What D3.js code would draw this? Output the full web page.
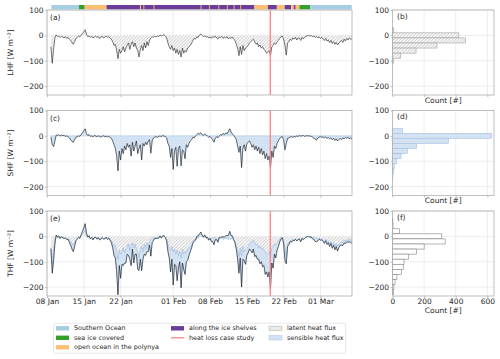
<!DOCTYPE html>
<html>
<head>
<meta charset="utf-8">
<script src="https://cdn.jsdelivr.net/npm/d3@7"></script>
<style>
  body { margin: 0; background: #fff; }
  text { font-family: "DejaVu Sans", sans-serif; fill: #262626; }
</style>
</head>
<body>
<div id="chart"></div>
<script>
// ---- data (6-hourly) ----
const startTime = "2017-01-08T18:00";
const stepHours = 6;

// latent heat flux [W m-2]
const lhf = [
  -45, -110, -55, -10,   2, -5, -3, -8,   -4, -6, -10, -5,   -12, -8, -15, -20,
  -28, -35, -25, -12,   -8, -3, -6, 2,   8, 14, 22, 4,   -5, -2, -8, -4,
  -10, -6, -3, -8,   -5, -12, -6, -4,   -10, -7, -3, -8,   -5, -10, -15, -25,
  -40, -35, -60, -92,   -55, -70, -60, -45,   -65, -50, -40, -30,   -55, -35, -25, -45,
  -30, -50, -60, -85,   -55, -40, -60, -30,   -50, -25, -40, -20,   -10, -5, -8, -3,
  -6, -2, -5, 2,   -3, 0, 3, -2,   -10, -30, -45, -55,   -40, -60, -50, -70,
  -55, -75, -60, -85,   -50, -70, -60, -65,   -50, -45, -40, -30,   -20, -12, -15, -5,
  -8, 2, 5, 0,   -5, -2, -8, -4,   -10, -6, -12, -5,   -8, -3, -10, -15,
  -6, -9, -4, -12,   -7, -10, -5, -14,   -8, -12, -6, -15,   -20, -35, -50, -80,
  -45, -75, -40, -60,   -50, -45, -40, -30,   -25, -20, -15, -25,   -35, -30, -45, -38,
  -50, -45, -55, -60,   -70, -65, -60, -80,   -45, -40, -30, -35,   -25, -20, -12, -5,
  -3, -15, -40, -78,   -30, -25, -15, -20,   -10, -15, -8, -18,   -10, -12, -20, -8,
  -14, -6, -3, -2,   0, -3, -1, -5,   -2, -8, -4, -10,   -6, -12, -8, -15,
  -20, -12, -22, -18,   -28, -20, -32, -25,   -35, -28, -38, -30,   -25, -20, -28, -15,
  -22, -12, -18, -10,   -15, -14
];

// sensible heat flux [W m-2]
const shf = [
  -5, -35, -42, -20,   3, 2, 5, 0,   3, 1, 2, -2,   0, -3, -8, -15,
  -22, -25, -15, -5,   -3, 0, -2, 5,   12, 20, 28, 10,   2, 5, -2, 0,
  -4, 2, -1, -3,   0, -2, -5, -1,   0, -3, -1, -4,   -2, -6, -10, -20,
  -35, -50, -80, -138,   -60, -95, -50, -70,   -40, -55, -30, -45,   -35, -80, -25, -60,
  -40, -20, -70, -50,   -35, -95, -30, -40,   -25, -35, -20, -15,   -68, -20, -8, -5,
  -3, -6, -2, 0,   -4, 2, -1, -3,   -8, -30, -40, -85,   -50, -132, -60, -45,
  -120, -50, -40, -118,   -55, -60, -90, -35,   -45, -30, -20, -15,   -5, -8, 0, 5,
  10, 8, 12, 5,   2, 8, 3, 0,   -5, -2, -8, -15,   -25, -10, -3, -8,
  0, 5, 2, 10,   5, 12, 8, 18,   28, 15, 8, 2,   -5, -15, -40, -65,
  -40, -125, -50, -35,   -60, -30, -25, -20,   -30, -45, -35, -55,   -40, -60, -45, -70,
  -50, -75, -60, -90,   -70, -95, -80, -127,   -60, -85, -40, -50,   -30, -20, -10, -5,
  -3, -15, -55, -30,   -10, -8, -5, -3,   -6, -2, -4, 0,   -3, 2, -1, 0,
  2, -2, 0, 1,   -1, 0, -2, -5,   -10, -12, -17, -8,   -5, -3, -6, -4,
  -8, -5, -10, -7,   -12, -8, -15, -10,   -18, -12, -20, -14,   -10, -15, -8, -12,
  -6, -10, -5, -12,   -8, -15
];

// histograms: bin edges (top to bottom) and counts per bin
const binEdges = [70, 50, 30, 10, -10, -30, -50, -70, -90, -110, -130, -150, -170, -190, -210, -230];
const lhfCounts = [0, 0, 8, 419, 462, 281, 149, 52, 6, 0, 0, 0, 0, 0, 0];
const shfCounts = [0, 0, 62, 627, 354, 153, 94, 54, 27, 11, 5, 2, 0, 0, 0];
const thfCounts = [2, 3, 43, 312, 333, 200, 153, 100, 73, 68, 58, 28, 16, 9, 5];

// ship location along the track
const segStart = ["2017-01-08T20:00", "2017-01-14T02:00", "2017-01-15T04:00", "2017-01-19T08:00",
  "2017-01-25T16:00", "2017-01-26T08:00", "2017-01-28T06:00", "2017-02-06T05:00", "2017-02-07T19:00",
  "2017-02-09T14:00", "2017-02-11T05:00", "2017-02-12T12:00", "2017-02-13T18:00",
  "2017-02-16T11:00", "2017-02-19T00:00", "2017-02-20T17:00", "2017-02-22T05:00", "2017-02-23T10:00",
  "2017-02-23T22:00", "2017-02-24T07:00", "2017-02-25T00:00", "2017-02-27T01:00"];
const segEnd = ["2017-01-14T02:00", "2017-01-15T04:00", "2017-01-19T08:00", "2017-02-16T11:00",
  "2017-01-25T21:00", "2017-01-26T12:00", "2017-01-28T10:00", "2017-02-06T09:00", "2017-02-07T23:00",
  "2017-02-09T18:00", "2017-02-11T09:00", "2017-02-12T16:00", "2017-02-13T22:00",
  "2017-02-19T00:00", "2017-02-20T17:00", "2017-02-22T05:00", "2017-02-23T10:00", "2017-02-23T22:00",
  "2017-02-24T07:00", "2017-02-25T00:00", "2017-02-27T01:00", "2017-03-06T23:00"];
const segType = ["so", "ice", "open", "shelf",
  "open", "open", "open", "open", "open", "open", "open", "open", "open",
  "open", "shelf", "open", "shelf", "open", "shelf", "open", "ice", "so"];

const caseStudyTime = "2017-02-19T11:00";
const dateTicks = ["2017-01-08", "2017-01-15", "2017-01-22", "2017-02-01", "2017-02-08", "2017-02-15", "2017-02-22", "2017-03-01"];
const fluxTicks = [100, 0, -100, -200];
const countTicks = [0, 200, 400, 600];

// ---- layout ----
const W = 500, H = 359;
const tsLeft = 47, tsRight = 352, hLeft = 392.5, hRight = 494;
const panelTops = [10, 110.5, 211], panelH = 85;

const colors = { so: "#a6cee3", ice: "#33a02c", open: "#fdbf6f", shelf: "#6a3d9a" };
const caseColor = "#ff8080";
const frameColor = "#b0b0b0", gridColor = "#e8e8e8";

const parse = d3.utcParse("%Y-%m-%dT%H:%M");
const parseDay = d3.utcParse("%Y-%m-%d");
const t0 = parse(startTime);
const times = lhf.map((_, i) => new Date(t0.getTime() + i * stepHours * 3600e3));
const thf = lhf.map((v, i) => v + shf[i]);

const svg = d3.select("#chart").append("svg")
    .attr("width", W).attr("height", H);

const x = d3.scaleUtc()
    .domain([parse("2017-01-08T00:00"), parse("2017-03-07T00:00")])
    .range([tsLeft, tsRight]);
const xc = d3.scaleLinear().domain([0, 642]).range([hLeft, hRight]);

// patterns
const defs = svg.append("defs");
const hatch = defs.append("pattern").attr("id", "hatchGray")
    .attr("patternUnits", "userSpaceOnUse").attr("width", 2.3).attr("height", 2.3)
    .attr("patternTransform", "rotate(45)");
hatch.append("rect").attr("width", 2.3).attr("height", 2.3).attr("fill", "#fff");
hatch.append("line").attr("x1", 0.6).attr("y1", 0).attr("x2", 0.6).attr("y2", 2.3)
    .attr("stroke", "#a8a8a8").attr("stroke-width", 0.55);

const dots = defs.append("pattern").attr("id", "dotsBlue")
    .attr("patternUnits", "userSpaceOnUse").attr("width", 1.8).attr("height", 1.8);
dots.append("rect").attr("width", 1.8).attr("height", 1.8).attr("fill", "#e4eef8");
dots.append("circle").attr("cx", 0.9).attr("cy", 0.9).attr("r", 0.45).attr("fill", "#8cb0d8");

const series = [
  { name: "LHF", label: "(a)", hlabel: "(b)", values: lhf, counts: lhfCounts },
  { name: "SHF", label: "(c)", hlabel: "(d)", values: shf, counts: shfCounts },
  { name: "THF", label: "(e)", hlabel: "(f)", values: thf, counts: thfCounts }
];

// top strip with ship location
svg.append("g").selectAll("rect")
    .data(segType)
    .join("rect")
    .attr("x", (d, i) => x(parse(segStart[i])))
    .attr("width", (d, i) => x(parse(segEnd[i])) - x(parse(segStart[i])))
    .attr("y", 5).attr("height", 4.6)
    .attr("fill", d => colors[d]);

series.forEach((s, row) => {
    const top = panelTops[row];
    const y = d3.scaleLinear().domain([-235, 100]).range([top + panelH, top]);
    const isLast = row === series.length - 1;

    // ---------- time series panel ----------
    const g = svg.append("g");
    defs.append("clipPath").attr("id", "clip" + row)
        .append("rect").attr("x", tsLeft).attr("y", top).attr("width", tsRight - tsLeft).attr("height", panelH);

    g.selectAll(".vgrid").data(dateTicks).join("line")
        .attr("x1", d => x(parseDay(d))).attr("x2", d => x(parseDay(d)))
        .attr("y1", top).attr("y2", top + panelH)
        .attr("stroke", gridColor).attr("stroke-width", 0.8);
    g.selectAll(".hgrid").data(fluxTicks).join("line")
        .attr("x1", tsLeft).attr("x2", tsRight)
        .attr("y1", d => y(d)).attr("y2", d => y(d))
        .attr("stroke", gridColor).attr("stroke-width", 0.8);

    const plot = g.append("g").attr("clip-path", `url(#clip${row})`);

    if (row === 1) {
        plot.append("path").datum(shf)
            .attr("fill", "url(#dotsBlue)").attr("stroke", "#a3c2e3").attr("stroke-width", 0.4)
            .attr("d", d3.area().x((d, i) => x(times[i])).y0(y(0)).y1(d => y(d)));
    } else {
        plot.append("path").datum(lhf)
            .attr("fill", "url(#hatchGray)").attr("stroke", "none")
            .attr("d", d3.area().x((d, i) => x(times[i])).y0(y(0)).y1(d => y(d)));
    }
    if (row === 2) {
        plot.append("path").datum(thf)
            .attr("fill", "url(#dotsBlue)").attr("stroke", "#7aa3cf").attr("stroke-width", 0.45)
            .attr("d", d3.area().x((d, i) => x(times[i])).y0((d, i) => y(lhf[i])).y1(d => y(d)));
    }

    plot.append("path").datum(s.values)
        .attr("fill", "none").attr("stroke", "#1a1a1a").attr("stroke-width", 0.6)
        .attr("d", d3.line().x((d, i) => x(times[i])).y(d => y(d)));

    // heat loss case study
    g.append("line")
        .attr("x1", x(parse(caseStudyTime))).attr("x2", x(parse(caseStudyTime)))
        .attr("y1", top).attr("y2", top + panelH)
        .attr("stroke", caseColor).attr("stroke-width", 1.3);

    g.append("rect").attr("x", tsLeft).attr("y", top)
        .attr("width", tsRight - tsLeft).attr("height", panelH)
        .attr("fill", "none").attr("stroke", frameColor).attr("stroke-width", 0.8);

    const yAxis = g.append("g").attr("transform", `translate(${tsLeft},0)`)
        .call(d3.axisLeft(y).tickValues(fluxTicks).tickSize(2).tickPadding(1.5));
    const xAxis = g.append("g").attr("transform", `translate(0,${top + panelH})`)
        .call(d3.axisBottom(x).tickValues(dateTicks.map(parseDay)).tickSize(2).tickPadding(1)
            .tickFormat(isLast ? d3.utcFormat("%d %b") : () => ""));

    g.append("text")
        .attr("transform", `translate(10,${top + panelH / 2}) rotate(-90)`)
        .attr("text-anchor", "middle").attr("dominant-baseline", "central")
        .style("font-size", "7.5px")
        .text(`${s.name} [W m⁻²]`);

    g.append("text").attr("x", tsLeft + 3).attr("y", top + 7.5)
        .attr("dominant-baseline", "central").style("font-size", "7.5px").text(s.label);

    // ---------- histogram panel ----------
    const h = svg.append("g");
    h.selectAll(".vgrid").data(countTicks.slice(1)).join("line")
        .attr("x1", d => xc(d)).attr("x2", d => xc(d))
        .attr("y1", top).attr("y2", top + panelH)
        .attr("stroke", gridColor).attr("stroke-width", 0.8);
    h.selectAll(".hgrid").data(fluxTicks).join("line")
        .attr("x1", hLeft).attr("x2", hRight)
        .attr("y1", d => y(d)).attr("y2", d => y(d))
        .attr("stroke", gridColor).attr("stroke-width", 0.8);

    const barFill = row === 0 ? "url(#hatchGray)" : row === 1 ? "url(#dotsBlue)" : "#fff";
    const barStroke = row === 0 ? "#a0a0a0" : row === 1 ? "#a3c2e3" : "#808080";
    h.selectAll(".bar").data(s.counts.map((c, i) => ({ c, i })).filter(d => d.c > 0))
        .join("rect")
        .attr("x", xc(0))
        .attr("y", d => y(binEdges[d.i]))
        .attr("width", d => xc(d.c) - xc(0))
        .attr("height", d => y(binEdges[d.i + 1]) - y(binEdges[d.i]))
        .attr("fill", barFill).attr("stroke", barStroke).attr("stroke-width", 0.6);

    h.append("rect").attr("x", hLeft).attr("y", top)
        .attr("width", hRight - hLeft).attr("height", panelH)
        .attr("fill", "none").attr("stroke", frameColor).attr("stroke-width", 0.8);

    const hyAxis = h.append("g").attr("transform", `translate(${hLeft},0)`)
        .call(d3.axisLeft(y).tickValues(fluxTicks).tickSize(2).tickPadding(1.5));
    const hxAxis = h.append("g").attr("transform", `translate(0,${top + panelH})`)
        .call(d3.axisBottom(xc).tickValues(countTicks).tickSize(2).tickPadding(1)
            .tickFormat(isLast ? d3.format("d") : () => ""));

    h.append("text").attr("x", (hLeft + hRight) / 2)
        .attr("y", top + panelH + (isLast ? 14.5 : 5))
        .attr("text-anchor", "middle").attr("dominant-baseline", "central")
        .style("font-size", "7.5px").text("Count [#]");

    h.append("text").attr("x", hLeft + 4.5).attr("y", top + 6)
        .attr("dominant-baseline", "central").style("font-size", "7.5px").text(s.hlabel);

    [yAxis, xAxis, hyAxis, hxAxis].forEach(a => {
        a.select(".domain").remove();
        a.selectAll("line").attr("stroke", frameColor).attr("stroke-width", 0.8);
        a.selectAll("text").style("font-size", "7.5px").attr("fill", "#262626")
            .style("font-family", "DejaVu Sans, sans-serif");
    });
});

// ---- legend ----
const legendItems = [
  { label: "Southern Ocean", type: "patch", fill: colors.so, col: 0, row: 0 },
  { label: "sea ice covered", type: "patch", fill: colors.ice, col: 0, row: 1 },
  { label: "open ocean in the polynya", type: "patch", fill: colors.open, col: 0, row: 2 },
  { label: "along the ice shelves", type: "patch", fill: colors.shelf, col: 1, row: 0 },
  { label: "heat loss case study", type: "line", fill: caseColor, col: 1, row: 1 },
  { label: "latent heat flux", type: "hatch", fill: "url(#hatchGray)", col: 2, row: 0 },
  { label: "sensible heat flux", type: "hatch", fill: "url(#dotsBlue)", col: 2, row: 1 }
];
const legColX = [56, 171, 269];
const legRowY = [328.3, 337.8, 347.3];

const legend = svg.append("g");
legend.append("rect").attr("x", 53.5).attr("y", 323.3).attr("width", 292).attr("height", 30)
    .attr("rx", 1.5).attr("fill", "#fff").attr("stroke", "#dedede").attr("stroke-width", 0.7);

legendItems.forEach(it => {
    const lx = legColX[it.col], ly = legRowY[it.row];
    if (it.type === "line") {
        legend.append("line").attr("x1", lx).attr("x2", lx + 13).attr("y1", ly).attr("y2", ly)
            .attr("stroke", it.fill).attr("stroke-width", 1.2);
    } else {
        legend.append("rect").attr("x", lx).attr("y", ly - 2.2).attr("width", 13).attr("height", 4.4)
            .attr("fill", it.fill)
            .attr("stroke", it.type === "hatch" ? (it.label.startsWith("latent") ? "#a8a8a8" : "#a3c2e3") : "none")
            .attr("stroke-width", 0.5);
    }
    legend.append("text").attr("x", lx + 18).attr("y", ly)
        .attr("dominant-baseline", "central").style("font-size", "6.4px").text(it.label);
});
</script>
</body>
</html>
